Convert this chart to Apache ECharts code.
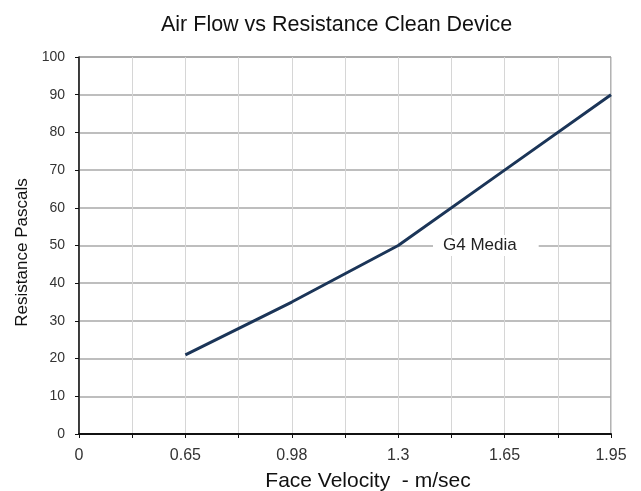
<!DOCTYPE html>
<html><head><meta charset="utf-8">
<script src="https://cdn.jsdelivr.net/npm/echarts@6/dist/echarts.min.js"></script>
<style>html,body{margin:0;padding:0;background:#fff}#c{width:641px;height:491px}</style>
</head><body><div id="c"></div>
<script>
var xTickLabels = ['0', '0.65', '0.98', '1.3', '1.65', '1.95'];
var velocity = ['0.65', '0.98', '1.3', '1.65', '1.95'];
var resistance = [21, 35, 50, 70, 90];
var seriesName = 'G4 Media';

// category slots: labelled ticks with an unlabelled minor slot between each
var categories = [];
xTickLabels.forEach(function (l, i) { if (i) categories.push(''); categories.push(l); });
var data = categories.map(function (c) {
  var k = c === '' ? -1 : velocity.indexOf(c);
  return k >= 0 ? resistance[k] : null;
});

var chart = echarts.init(document.getElementById('c'));
chart.setOption({
  animation: false,
  backgroundColor: '#fff',
  textStyle: { fontFamily: 'Liberation Sans, Arial, sans-serif' },
  title: {
    text: 'Air Flow vs Resistance Clean Device', left: 156, top: 9,
    textStyle: { fontSize: 21.5, fontWeight: 'normal', color: '#111', fontFamily: 'Liberation Sans, Arial, sans-serif' }
  },
  legend: {
    data: [{ name: seriesName, icon: 'none' }],
    left: 433, top: 235, itemWidth: 0, itemGap: 0,
    backgroundColor: '#fff', padding: [2, 22, 2, 5],
    textStyle: { fontSize: 17, color: '#222' }
  },
  grid: {
    left: 79, right: 30, top: 57, bottom: 57, show: true, borderColor: '#666', borderWidth: 1,
    containLabel: false, outerBoundsMode: 'none'
  },
  xAxis: {
    type: 'category', data: categories, boundaryGap: false,
    name: 'Face Velocity  - m/sec', nameLocation: 'middle', nameGap: 37,
    nameTextStyle: { fontSize: 21, color: '#111', padding: [0, 0, 0, 46] },
    axisLine: { lineStyle: { color: '#111', width: 2 } },
    axisTick: { interval: 0, length: 4, lineStyle: { color: '#111' } },
    axisLabel: { interval: 0, fontSize: 16, color: '#333', margin: 14 },
    splitLine: { show: true, interval: 0, lineStyle: { color: '#d6d6d6', width: 1 } }
  },
  yAxis: {
    type: 'value', min: 0, max: 100, interval: 10,
    name: 'Resistance Pascals', nameLocation: 'middle', nameGap: 48,
    nameTextStyle: { fontSize: 17, color: '#111', padding: [0, 14, 0, 0] },
    axisLine: { show: true, lineStyle: { color: '#111', width: 1.5 } },
    axisTick: { show: true, length: 4, lineStyle: { color: '#111' } },
    axisLabel: { fontSize: 14, color: '#333', margin: 14 },
    splitLine: { lineStyle: { color: '#a8a8a8', width: 1.5 } }
  },
  series: [{
    name: seriesName, type: 'line', data: data, connectNulls: true,
    showSymbol: false, symbol: 'none',
    lineStyle: { color: '#1b3558', width: 3 }, itemStyle: { color: '#1b3558' }
  }]
});
</script></body></html>
